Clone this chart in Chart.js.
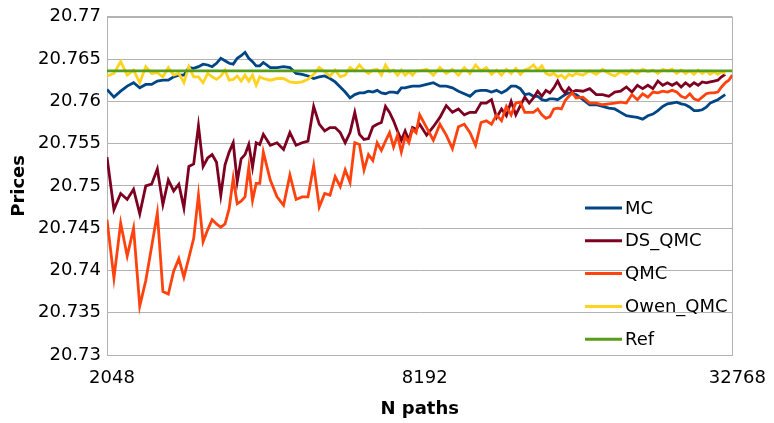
<!DOCTYPE html>
<html>
<head>
<meta charset="utf-8">
<title>Prices vs N paths</title>
<script src="https://cdn.jsdelivr.net/npm/chart.js@4.4.1/dist/chart.umd.min.js"></script>
<style>
  html, body { margin: 0; padding: 0; background: #ffffff; }
  #chart { display: block; }
</style>
</head>
<body>
<canvas id="chart" width="774" height="423"></canvas>
<script>
// Number of simulated paths (log-spaced sample of the run)
const N_PATHS = [
  2048, 2112, 2176, 2240, 2304, 2368, 2432, 2496, 2560, 2624, 2688, 2752, 2816, 2880, 2944, 3008, 3072,
  3136, 3200, 3264, 3328, 3392, 3456, 3520, 3584, 3648, 3712, 3776, 3840, 3904, 3968, 4032, 4096,
  4224, 4352, 4480, 4608, 4736, 4864, 4992, 5120, 5248, 5376, 5504, 5632, 5760, 5888, 6016, 6144,
  6272, 6400, 6528, 6656, 6784, 6912, 7040, 7168, 7296, 7424, 7552, 7680, 7808, 7936, 8064, 8192,
  8448, 8704, 8960, 9216, 9472, 9728, 9984, 10240, 10496, 10752, 11008, 11264, 11520, 11776, 12032, 12288,
  12544, 12800, 13056, 13312, 13568, 13824, 14080, 14336, 14592, 14848, 15104, 15360, 15616, 15872, 16128, 16384,
  16896, 17408, 17920, 18432, 18944, 19456, 19968, 20480, 20992, 21504, 22016, 22528, 23040, 23552, 24064, 24576,
  25088, 25600, 26112, 26624, 27136, 27648, 28160, 28672, 29184, 29696, 30208, 30720, 31232, 31744, 32256, 32768
];

const MC = [
  20.7614, 20.7605, 20.7612, 20.7618, 20.7622, 20.7616, 20.7620, 20.7620, 20.7624, 20.7625,
  20.7625, 20.7629, 20.7631, 20.7631, 20.7640, 20.7639, 20.7641, 20.7644, 20.7643, 20.7641,
  20.7645, 20.7651, 20.7648, 20.7645, 20.7644, 20.7651, 20.7654, 20.7658, 20.7651, 20.7647,
  20.7642, 20.7642, 20.7646,
  20.7640, 20.7640, 20.7641, 20.7640, 20.7633, 20.7632, 20.7630, 20.7627, 20.7629, 20.7630,
  20.7627, 20.7623, 20.7617, 20.7611, 20.7604, 20.7608, 20.7610, 20.7610, 20.7612, 20.7611,
  20.7613, 20.7610, 20.7609, 20.7611, 20.7611, 20.7610, 20.7616, 20.7616, 20.7617, 20.7618,
  20.7618, 20.7618,
  20.7620, 20.7622, 20.7618, 20.7618, 20.7616, 20.7612, 20.7609, 20.7606, 20.7612, 20.7613,
  20.7613, 20.7611, 20.7613, 20.7610, 20.7613, 20.7618, 20.7618, 20.7615, 20.7608, 20.7609,
  20.7606, 20.7606, 20.7602, 20.7601, 20.7603, 20.7603, 20.7602, 20.7605, 20.7608, 20.7610,
  20.7609, 20.7608,
  20.7602, 20.7596, 20.7596, 20.7594, 20.7592, 20.7591, 20.7587, 20.7583, 20.7582, 20.7581,
  20.7579, 20.7583, 20.7585, 20.7589, 20.7594, 20.7597, 20.7598, 20.7599, 20.7597, 20.7596,
  20.7593, 20.7589, 20.7589, 20.7590, 20.7593, 20.7598, 20.7600, 20.7602, 20.7605, 20.7608,
  null, null
];

const DS_QMC = [
  20.7534, 20.7472, 20.7491, 20.7484, 20.7496, 20.7467, 20.7500, 20.7502, 20.7520, 20.7478,
  20.7507, 20.7494, 20.7502, 20.7474, 20.7523, 20.7526, 20.7571, 20.7523, 20.7533, 20.7537,
  20.7528, 20.7489, 20.7525, 20.7540, 20.7551, 20.7505, 20.7532, 20.7537, 20.7549, 20.7522,
  20.7551, 20.7549, 20.7561,
  20.7548, 20.7551, 20.7543, 20.7563, 20.7548, 20.7551, 20.7553, 20.7594, 20.7573, 20.7565,
  20.7569, 20.7569, 20.7563, 20.7551, 20.7563, 20.7587, 20.7561, 20.7555, 20.7556, 20.7570,
  20.7573, 20.7575, 20.7594, 20.7587, 20.7577, 20.7565, 20.7554, 20.7565, 20.7554, 20.7569,
  20.7567, 20.7573,
  20.7560, 20.7570, 20.7581, 20.7595, 20.7587, 20.7591, 20.7584, 20.7587, 20.7587, 20.7598,
  20.7598, 20.7602, 20.7581, 20.7591, 20.7583, 20.7600, 20.7584, 20.7595, 20.7605, 20.7598,
  20.7604, 20.7612, 20.7606, 20.7613, 20.7610, 20.7616, 20.7624, 20.7615, 20.7610, 20.7616,
  20.7611, 20.7613,
  20.7612, 20.7615, 20.7608, 20.7608, 20.7606, 20.7611, 20.7612, 20.7617, 20.7611, 20.7619,
  20.7615, 20.7619, 20.7615, 20.7624, 20.7619, 20.7622, 20.7619, 20.7622, 20.7617, 20.7622,
  20.7618, 20.7622, 20.7619, 20.7623, 20.7622, 20.7623, 20.7624, 20.7625, 20.7629, 20.7632,
  null, null
];

const QMC = [
  20.7460, 20.7391, 20.7456, 20.7417, 20.7450, 20.7358, 20.7388, 20.7428, 20.7468, 20.7375,
  20.7372, 20.7399, 20.7414, 20.7392, 20.7415, 20.7438, 20.7489, 20.7434, 20.7448, 20.7460,
  20.7455, 20.7451, 20.7455, 20.7473, 20.7509, 20.7479, 20.7482, 20.7487, 20.7522, 20.7483,
  20.7503, 20.7503, 20.7540,
  20.7507, 20.7487, 20.7477, 20.7513, 20.7484, 20.7487, 20.7487, 20.7524, 20.7475, 20.7491,
  20.7489, 20.7511, 20.7499, 20.7519, 20.7504, 20.7551, 20.7549, 20.7519, 20.7537, 20.7530,
  20.7551, 20.7542, 20.7553, 20.7563, 20.7546, 20.7560, 20.7540, 20.7558, 20.7551, 20.7567,
  20.7563, 20.7584,
  20.7569, 20.7554, 20.7573, 20.7560, 20.7544, 20.7570, 20.7573, 20.7563, 20.7548, 20.7575,
  20.7577, 20.7573, 20.7584, 20.7577, 20.7594, 20.7584, 20.7598, 20.7599, 20.7587, 20.7587,
  20.7587, 20.7591, 20.7584, 20.7580, 20.7582, 20.7591, 20.7592, 20.7591, 20.7601, 20.7606,
  20.7610, 20.7604,
  20.7605, 20.7598, 20.7598, 20.7596, 20.7597, 20.7598, 20.7599, 20.7598, 20.7608, 20.7602,
  20.7609, 20.7605, 20.7611, 20.7610, 20.7612, 20.7611, 20.7613, 20.7611, 20.7606, 20.7604,
  20.7609, 20.7603, 20.7601, 20.7605, 20.7609, 20.7610, 20.7610, 20.7611, 20.7617, 20.7622,
  20.7625, 20.7631
];

const OWEN_QMC = [
  20.7630, 20.7633, 20.7647, 20.7631, 20.7637, 20.7622, 20.7641, 20.7633, 20.7634, 20.7629,
  20.7640, 20.7631, 20.7633, 20.7622, 20.7641, 20.7629, 20.7629, 20.7622, 20.7633, 20.7629,
  20.7626, 20.7630, 20.7637, 20.7625, 20.7626, 20.7630, 20.7624, 20.7631, 20.7624, 20.7631,
  20.7619, 20.7629, 20.7627,
  20.7625, 20.7627, 20.7627, 20.7623, 20.7622, 20.7623, 20.7626, 20.7632, 20.7640, 20.7635,
  20.7630, 20.7637, 20.7629, 20.7631, 20.7640, 20.7636, 20.7643, 20.7637, 20.7633, 20.7637,
  20.7638, 20.7631, 20.7643, 20.7635, 20.7637, 20.7631, 20.7637, 20.7631, 20.7635, 20.7631,
  20.7636, 20.7636,
  20.7638, 20.7631, 20.7640, 20.7633, 20.7638, 20.7631, 20.7640, 20.7633, 20.7643, 20.7636,
  20.7640, 20.7632, 20.7637, 20.7631, 20.7638, 20.7633, 20.7639, 20.7632, 20.7637, 20.7639,
  20.7643, 20.7637, 20.7642, 20.7633, 20.7631, 20.7633, 20.7629, 20.7631, 20.7627, 20.7632,
  20.7630, 20.7633,
  20.7631, 20.7636, 20.7632, 20.7638, 20.7633, 20.7630, 20.7635, 20.7632, 20.7637, 20.7633,
  20.7638, 20.7635, 20.7637, 20.7633, 20.7638, 20.7636, 20.7638, 20.7633, 20.7637, 20.7633,
  20.7636, 20.7632, 20.7637, 20.7633, 20.7636, 20.7632, 20.7635, 20.7632, 20.7635, 20.7633,
  null, null
];

// Reference (analytic) price
const REF_PRICE = 20.7636;

const X_TICKS = [2048, 8192, 32768];
const Y_TICKS = [20.73, 20.735, 20.74, 20.745, 20.75, 20.755, 20.76, 20.765, 20.77];

const SERIES_NAMES = ['MC', 'DS_QMC', 'QMC', 'Owen_QMC', 'Ref'];
const SERIES_COLORS = ['#004586', '#7e0021', '#ff420e', '#ffd320', '#579d1c'];

const FONT = '"DejaVu Sans", "Liberation Sans", sans-serif';
const GRID = '#b3b3b3';

function toPoints(values) {
  return N_PATHS.map((n, i) => ({ x: n, y: values[i] }));
}

const seriesValues = [MC, DS_QMC, QMC, OWEN_QMC, N_PATHS.map(() => REF_PRICE)];

const datasets = seriesValues.map((vals, i) => ({
  label: SERIES_NAMES[i],
  data: toPoints(vals),
  borderColor: SERIES_COLORS[i],
  backgroundColor: SERIES_COLORS[i],
  borderWidth: 2.8,
  pointRadius: 0,
  tension: 0,
  fill: false,
  spanGaps: false,
  order: SERIES_NAMES.length - i   // later series drawn on top
}));

// Grey frame around the plotting area
const plotFrame = {
  id: 'plotFrame',
  beforeDatasetsDraw(chart) {
    const { ctx, chartArea: a } = chart;
    ctx.save();
    ctx.strokeStyle = GRID;
    ctx.lineWidth = 1;
    ctx.strokeRect(Math.round(a.left) + 0.5, Math.round(a.top) + 0.5,
                   Math.round(a.right - a.left), Math.round(a.bottom - a.top));
    ctx.restore();
  }
};

// Legend placed inside the plot, lower right
const insideLegend = {
  id: 'insideLegend',
  afterDatasetsDraw(chart) {
    const { ctx } = chart;
    const x0 = 585, x1 = 622, tx = 625;
    const y0 = 208, step = 32.8;
    ctx.save();
    ctx.font = '18px ' + FONT;
    ctx.textBaseline = 'middle';
    ctx.textAlign = 'left';
    chart.data.datasets.forEach((ds, i) => {
      const y = y0 + i * step;
      ctx.strokeStyle = ds.borderColor;
      ctx.lineWidth = 3;
      ctx.beginPath();
      ctx.moveTo(x0, y);
      ctx.lineTo(x1, y);
      ctx.stroke();
      ctx.fillStyle = '#000000';
      ctx.fillText(ds.label, tx, y + 1);
    });
    ctx.restore();
  }
};

new Chart(document.getElementById('chart'), {
  type: 'line',
  data: { datasets },
  plugins: [plotFrame, insideLegend],
  options: {
    responsive: false,
    animation: false,
    devicePixelRatio: 1,
    layout: { padding: { top: 13, right: 37, bottom: 0, left: 0 } },
    plugins: {
      legend: { display: false },
      tooltip: { enabled: false }
    },
    scales: {
      x: {
        type: 'logarithmic',
        min: 2048,
        max: 32768,
        afterBuildTicks(scale) { scale.ticks = X_TICKS.map(v => ({ value: v })); },
        afterFit(scale) { scale.height = 68; },
        grid: { display: false, drawTicks: false },
        border: { display: false },
        ticks: {
          color: '#000000',
          font: { family: FONT, size: 18 },
          padding: 13,
          labelOffset: 5,
          maxRotation: 0,
          autoSkip: false,
          callback: (v) => String(v)
        },
        title: {
          display: true,
          text: 'N paths',
          color: '#000000',
          font: { family: FONT, size: 18, weight: 'bold' },
          padding: { top: 0, bottom: 3 }
        }
      },
      y: {
        type: 'linear',
        min: 20.73,
        max: 20.77,
        afterBuildTicks(scale) { scale.ticks = Y_TICKS.map(v => ({ value: v })); },
        afterFit(scale) { scale.width = 107; },
        grid: { color: GRID, lineWidth: 1, drawTicks: false },
        border: { display: false },
        ticks: {
          color: '#000000',
          font: { family: FONT, size: 18 },
          padding: 6,
          callback: (v) => String(Number(v.toFixed(3)))
        },
        title: {
          display: true,
          text: 'Prices',
          color: '#000000',
          font: { family: FONT, size: 18, weight: 'bold' },
          padding: { top: 9, bottom: 0 }
        }
      }
    }
  }
});
</script>
</body>
</html>
